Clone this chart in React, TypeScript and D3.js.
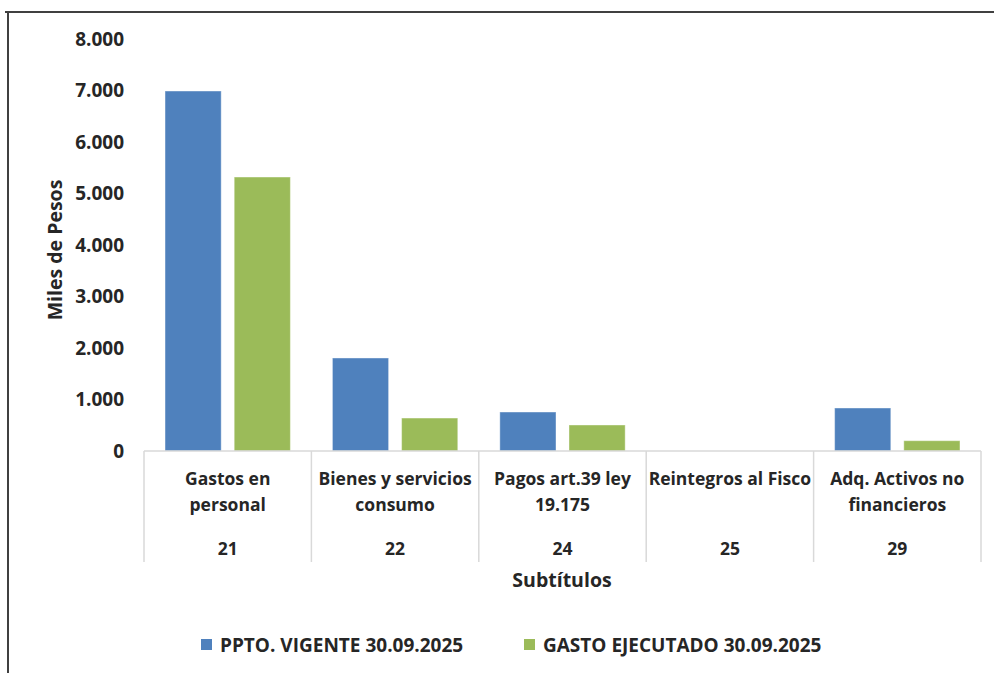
import React from "react";
import * as d3 from "d3";

// Data (miles de pesos)
const codes = ["21", "22", "24", "25", "29"];
const categoryLines = [
  ["Gastos en", "personal"],
  ["Bienes y servicios", "consumo"],
  ["Pagos art.39 ley", "19.175"],
  ["Reintegros al Fisco"],
  ["Adq. Activos no", "financieros"],
];
const seriesNames = ["PPTO. VIGENTE 30.09.2025", "GASTO EJECUTADO 30.09.2025"];
const presupuesto = [6990, 1806, 757, 0, 835];
const ejecutado = [5320, 640, 505, 0, 200];
const yTicks = [0, 1000, 2000, 3000, 4000, 5000, 6000, 7000, 8000];
const colors = ["#4f81bd", "#9bbb59"];

const W = 994;
const H = 673;
const FONT = "'Open Sans', Lato, sans-serif";

export default function App() {
  const x = d3.scaleBand<string>().domain(codes).range([144, 981]).padding(0);
  const inner = d3
    .scaleBand<string>()
    .domain(["0", "1"])
    .range([0, x.bandwidth()])
    .paddingInner(0.188)
    .paddingOuter(0.304);
  const y = d3.scaleLinear().domain([0, 8000]).range([451, 39]);
  const fmt = (v: number) => (v === 0 ? "0" : d3.format(",")(v).replace(/,/g, "."));

  const values = [presupuesto, ejecutado];
  const axisBottom = 562;

  return (
    <div style={{ position: "absolute", left: 0, top: 0 }}>
      <svg width={W} height={H} style={{ display: "block", fontFamily: FONT }}>
        <rect width={W} height={H} fill="#ffffff" />
        {/* outer frame */}
        <line x1={5} x2={W} y1={12} y2={12} stroke="#404040" strokeWidth={2} />
        <line x1={8} x2={8} y1={12} y2={H} stroke="#404040" strokeWidth={2} />

        {/* y tick labels */}
        {yTicks.map((t) => (
          <text
            key={t}
            x={124}
            y={y(t)}
            dy="0.36em"
            textAnchor="end"
            fontSize={19}
            fontWeight={700}
            fill="#262626"
          >
            {fmt(t)}
          </text>
        ))}
        <text
          transform={`translate(62,250) rotate(-90)`}
          textAnchor="middle"
          fontSize={19.5}
          fontWeight={700}
          fill="#262626"
        >
          Miles de Pesos
        </text>

        {/* bars */}
        {codes.map((c, i) => (
          <g key={c} transform={`translate(${x(c)},0)`}>
            {values.map((s, k) =>
              s[i] > 0 ? (
                <rect
                  key={k}
                  x={inner(String(k))}
                  y={y(s[i])}
                  width={inner.bandwidth()}
                  height={y(0) - y(s[i])}
                  fill={colors[k]}
                  stroke="#ffffff"
                  strokeOpacity={0.4}
                  strokeWidth={1}
                />
              ) : null
            )}
          </g>
        ))}

        {/* category axis */}
        <line x1={144} x2={981} y1={y(0)} y2={y(0)} stroke="#d9d9d9" strokeWidth={1.5} />
        {[...codes.map((c) => x(c) as number), 981].map((bx, i) => (
          <line key={i} x1={bx} x2={bx} y1={y(0)} y2={axisBottom} stroke="#d9d9d9" strokeWidth={1.5} />
        ))}
        {codes.map((c, i) => {
          const cx = (x(c) as number) + x.bandwidth() / 2;
          return (
            <g key={c} fontSize={17.5} fontWeight={700} fill="#262626" textAnchor="middle">
              {categoryLines[i].map((ln, j) => (
                <text key={j} x={cx} y={485 + j * 26}>
                  {ln}
                </text>
              ))}
              <text x={cx} y={555}>
                {c}
              </text>
            </g>
          );
        })}
        <text x={562} y={587} textAnchor="middle" fontSize={19.5} fontWeight={700} fill="#262626">
          Subtítulos
        </text>

        {/* legend */}
        {seriesNames.map((n, k) => {
          const lx = k === 0 ? 201 : 524;
          return (
            <g key={n}>
              <rect x={lx} y={639} width={11} height={11} fill={colors[k]} />
              <text x={lx + 19} y={652} fontSize={19} fontWeight={700} fill="#262626">
                {n}
              </text>
            </g>
          );
        })}
      </svg>
    </div>
  );
}
